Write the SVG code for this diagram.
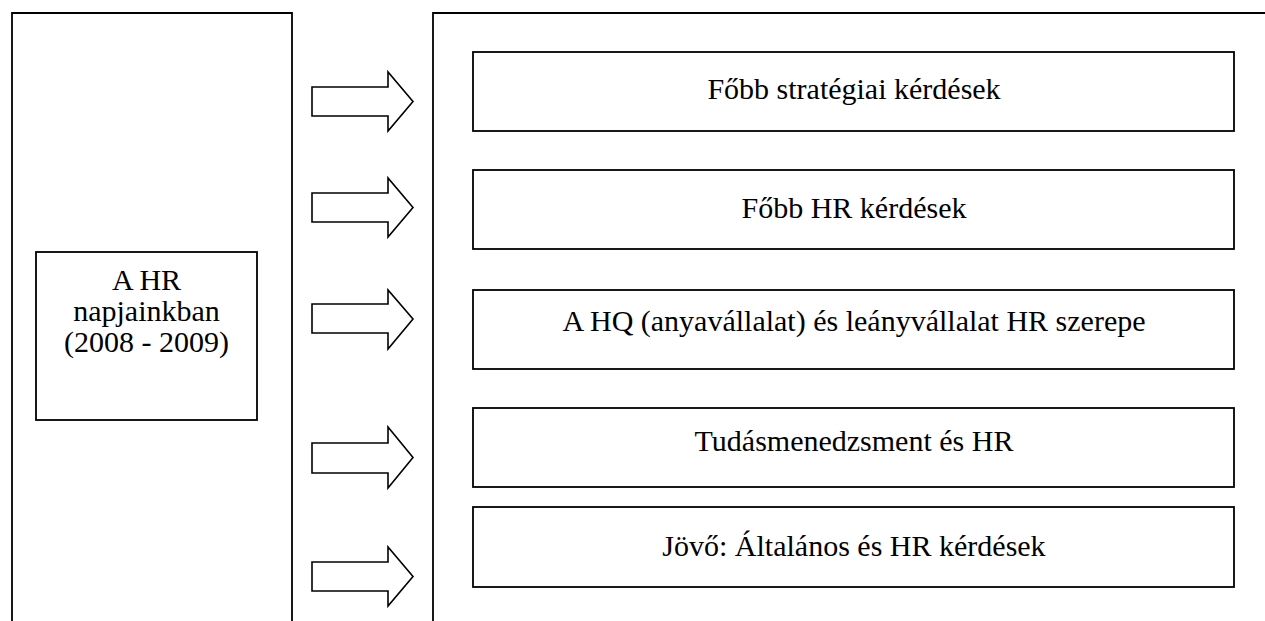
<svg xmlns="http://www.w3.org/2000/svg" width="1265" height="621" viewBox="0 0 1265 621">
<defs>
<style>
.frame{fill:none;stroke:#000;stroke-width:1.8}
.box{fill:#fff;stroke:#000;stroke-width:1.8}
.arrow{fill:#fff;stroke:#000;stroke-width:1.6;stroke-linejoin:miter}
.t{font-family:"Liberation Serif","Times New Roman",serif;font-size:30px;fill:#000;text-anchor:middle}
</style>
</defs>
<rect width="1265" height="621" fill="#fff"/>
<g id="frame-left"><path class="frame" d="M12,622 V13 H292 V622"/></g>
<g id="frame-right"><path class="frame" d="M433,622 V13 H1266"/></g>
<g id="node-hr">
<rect class="box" x="36" y="252" width="221" height="168"/>
<text class="t" x="146.5" y="290">A HR</text>
<text class="t" x="146.5" y="321">napjainkban</text>
<text class="t" x="146.5" y="352">(2008 - 2009)</text>
</g>
<g id="node-1"><rect class="box" x="473" y="52" width="761" height="79"/><text class="t" x="854" y="99">Főbb stratégiai kérdések</text></g>
<g id="node-2"><rect class="box" x="473" y="170" width="761" height="79"/><text class="t" x="854" y="218">Főbb HR kérdések</text></g>
<g id="node-3"><rect class="box" x="473" y="290" width="761" height="79"/><text class="t" x="854" y="331">A HQ (anyavállalat) és leányvállalat HR szerepe</text></g>
<g id="node-4"><rect class="box" x="473" y="408" width="761" height="79"/><text class="t" x="854" y="451">Tudásmenedzsment és HR</text></g>
<g id="node-5"><rect class="box" x="473" y="507" width="761" height="80"/><text class="t" x="854" y="556">Jövő: Általános és HR kérdések</text></g>
<g id="connectors">
<path class="arrow" d="M312,87 H388 V72 L413,101.5 L388,131 V116 H312 Z"/>
<path class="arrow" d="M312,193 H388 V178 L413,207.5 L388,237 V222 H312 Z"/>
<path class="arrow" d="M312,304 H388 V290 L413,319 L388,349 V333 H312 Z"/>
<path class="arrow" d="M312,443 H388 V427 L413,457.5 L388,488 V473 H312 Z"/>
<path class="arrow" d="M312,562 H388 V547 L413,576.5 L388,606 V591 H312 Z"/>
</g>
</svg>
